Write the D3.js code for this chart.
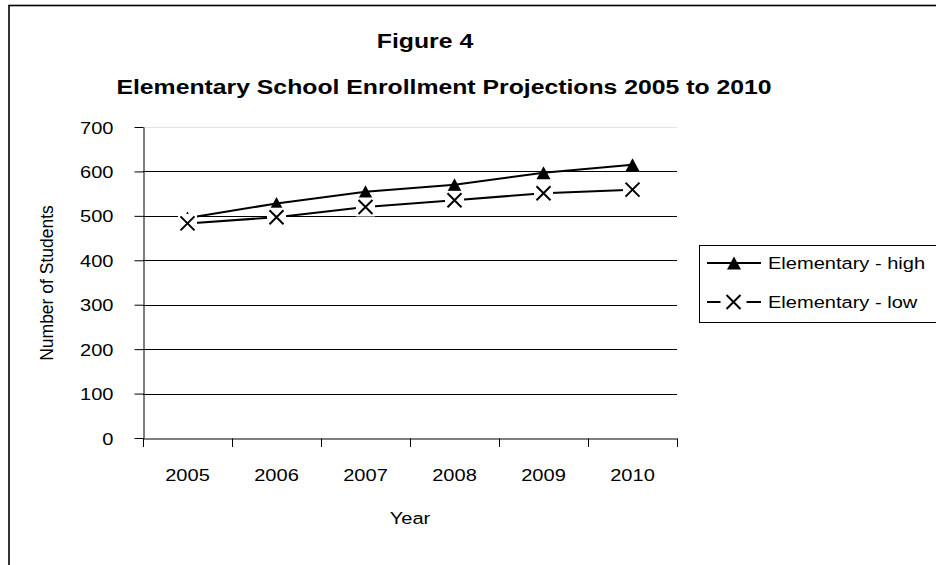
<!DOCTYPE html>
<html>
<head>
<meta charset="utf-8">
<script src="https://cdn.jsdelivr.net/npm/d3@7"></script>
<style>
  html, body { margin: 0; padding: 0; background: #fff; }
  svg { display: block; font-family: "Liberation Sans", Arial, sans-serif; }
</style>
</head>
<body>
<svg id="chart" width="936" height="565"></svg>
<script>
// Enrollment projections by year
const years = ["2005", "2006", "2007", "2008", "2009", "2010"];
const highValues = [495, 528, 554, 570, 597, 615];
const lowValues = [483, 497, 520, 535, 551, 559];
const yTicks = [0, 100, 200, 300, 400, 500, 600, 700];
const seriesNames = ["Elementary - high", "Elementary - low"];

const svg = d3.select("#chart");
const SX = 1.18; // horizontal text stretch

function label(parent, txt, x, y, size, opts = {}) {
  return parent.append("text")
    .attr("transform", `translate(${x},${y}) scale(${SX},1)`)
    .attr("text-anchor", opts.anchor || "start")
    .attr("font-size", size)
    .attr("font-weight", opts.bold ? "bold" : "normal")
    .attr("fill", "#000")
    .text(txt);
}

// outer chart frame
svg.append("rect")
  .attr("x", 9).attr("y", 5.5).attr("width", 960).attr("height", 600)
  .attr("fill", "none").attr("stroke", "#000").attr("stroke-width", 1.6);

// titles
label(svg, "Figure 4", 425, 48, 21, { anchor: "middle", bold: true });
label(svg, "Elementary School Enrollment Projections 2005 to 2010", 444, 94, 21, { anchor: "middle", bold: true });

const plot = { left: 143, right: 677, top: 127, bottom: 438 };
const x = d3.scaleBand().domain(years).range([plot.left, plot.right]).padding(0);
const y = d3.scaleLinear().domain([0, 700]).range([plot.bottom, plot.top]);

// gridlines
svg.append("g").selectAll("line")
  .data(yTicks.filter(v => v > 0))
  .join("line")
  .attr("x1", plot.left).attr("x2", plot.right)
  .attr("y1", d => Math.round(y(d)) + 0.5).attr("y2", d => Math.round(y(d)) + 0.5)
  .attr("stroke", d => d === 700 ? "#e4e4e4" : "#000")
  .attr("stroke-width", 1);

// y axis
const yAxis = svg.append("g")
  .attr("transform", `translate(${plot.left + 0.5},0)`)
  .call(d3.axisLeft(y).tickValues(yTicks).tickSize(9).tickSizeOuter(0).tickPadding(0));
yAxis.select(".domain").attr("stroke", "#000");
yAxis.selectAll(".tick line").attr("stroke", "#000");
yAxis.selectAll(".tick text")
  .attr("x", null)
  .attr("dy", null)
  .attr("transform", `translate(-30,6) scale(${SX},1)`)
  .attr("font-size", 17)
  .attr("font-family", null)
  .attr("fill", "#000");

// x axis: labels at category centers, ticks between categories
const xAxis = svg.append("g")
  .attr("transform", `translate(0,${plot.bottom + 0.5})`)
  .call(d3.axisBottom(x).tickSize(0).tickSizeOuter(0).tickPadding(0));
xAxis.select(".domain").attr("stroke", "#000");
xAxis.selectAll(".tick text")
  .attr("y", null)
  .attr("dy", null)
  .attr("transform", `translate(0,42) scale(${SX},1)`)
  .attr("font-size", 17)
  .attr("font-family", null)
  .attr("fill", "#000");
xAxis.selectAll("line.sep")
  .data(years.map(c => x(c)).concat([x.range()[1]]))
  .join("line")
  .attr("class", "sep")
  .attr("x1", d => Math.round(d) + 0.5).attr("x2", d => Math.round(d) + 0.5)
  .attr("y1", 0).attr("y2", 8.5)
  .attr("stroke", "#000");

// axis titles
label(svg, "Year", 410, 524, 17, { anchor: "middle" });
svg.append("text")
  .attr("transform", `translate(53,283) rotate(-90)`)
  .attr("text-anchor", "middle")
  .attr("font-size", 17.5)
  .attr("fill", "#000")
  .text("Number of Students");

// markers
function triangle(g, cx, cy) {
  const w = 14, h = 13;
  g.append("path")
    .attr("d", `M${cx},${cy - h / 2}L${cx + w / 2},${cy + h / 2}L${cx - w / 2},${cy + h / 2}Z`)
    .attr("fill", "#000");
}
function cross(g, cx, cy, box) {
  const s = 7;
  g.append("rect")
    .attr("x", cx - box / 2).attr("y", cy - box / 2)
    .attr("width", box).attr("height", box)
    .attr("fill", "#fff");
  g.append("path")
    .attr("d", `M${cx - s},${cy - s}L${cx + s},${cy + s}M${cx - s},${cy + s}L${cx + s},${cy - s}`)
    .attr("stroke", "#000").attr("stroke-width", 2).attr("fill", "none");
}

const cx = d => x(d) + x.bandwidth() / 2;
const line = d3.line().x((d, i) => cx(years[i])).y(d => y(d));

// high series
svg.append("path")
  .datum(highValues)
  .attr("d", line)
  .attr("fill", "none").attr("stroke", "#000").attr("stroke-width", 2);
const highMarks = svg.append("g");
highValues.forEach((v, i) => triangle(highMarks, cx(years[i]), y(v)));

// low series
svg.append("path")
  .datum(lowValues)
  .attr("d", line)
  .attr("fill", "none").attr("stroke", "#000").attr("stroke-width", 2);
const lowMarks = svg.append("g");
lowValues.forEach((v, i) => cross(lowMarks, cx(years[i]), y(v), 19));

// legend
const lg = svg.append("g");
lg.append("rect")
  .attr("x", 699.5).attr("y", 245.5).attr("width", 260).attr("height", 77)
  .attr("fill", "#fff").attr("stroke", "#000").attr("stroke-width", 1);
const rows = [263, 302];
lg.append("line").attr("x1", 707).attr("x2", 761).attr("y1", rows[0]).attr("y2", rows[0])
  .attr("stroke", "#000").attr("stroke-width", 2);
triangle(lg, 734, rows[0]);
lg.append("line").attr("x1", 707).attr("x2", 761).attr("y1", rows[1]).attr("y2", rows[1])
  .attr("stroke", "#000").attr("stroke-width", 2);
cross(lg, 733.5, rows[1], 26);
seriesNames.forEach((name, i) => label(lg, name, 768, rows[i] + 6, 17));
</script>
</body>
</html>
